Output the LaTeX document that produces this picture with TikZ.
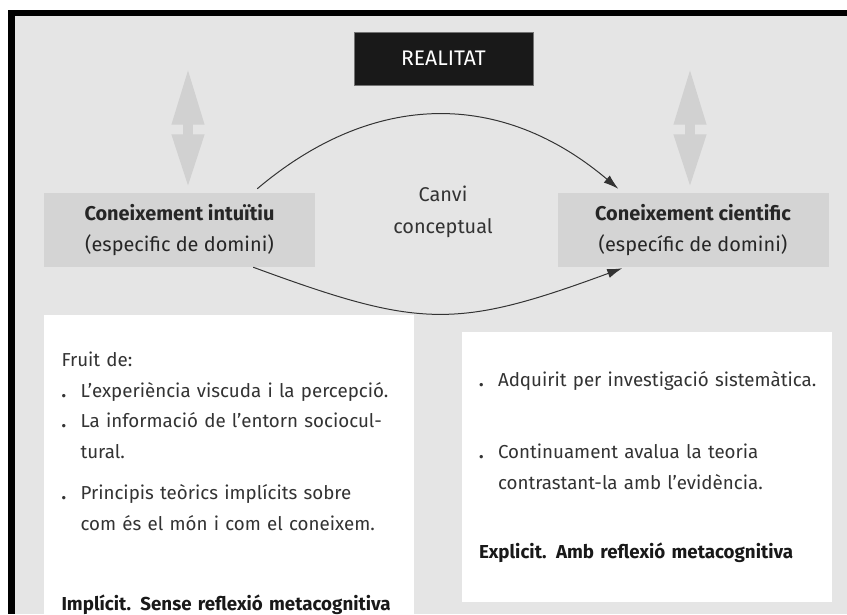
\documentclass[tikz,border=0pt]{standalone}
\usepackage{fontspec}
\setmainfont{Fira Sans}
\usepackage{tikz}
\usetikzlibrary{positioning,shapes,arrows,arrows.meta,calc}
\newcommand{\punt}{\hangindent=0.57cm\hangafter=1\noindent\makebox[0.57cm][l]{\textbf{.}}}
\newcommand{\fullline}[1]{\makebox[9.48cm][s]{#1}}

\begin{document}
\begin{tikzpicture}
        \tikzset{
            realbox/.style={fill=black!90, draw=black!55, text=white, minimum width=5.37cm, minimum height=1.59cm, font=\fontsize{18}{20}\selectfont},
            knowbox/.style={fill=black!17, minimum width=8.13cm, minimum height=2.22cm, align=center, text=black!85, font=\fontsize{17}{27}\selectfont},
            notebox/.style={fill=white, minimum width=11.1cm, minimum height=8.1cm, text width=10.05cm, align=left, text=black!80, font=\fontsize{16}{26}\selectfont\setlength\parindent{0pt}},
            updown/.style={line width=0.3cm, draw=black!18, {Triangle[length=1.7cm,width=0.9cm]}-{Triangle[length=1.6cm,width=0.9cm]}},
            change/.style={draw=black!80, line width=0.85pt, -{Latex[length=0.45cm,width=0.28cm]}},
        }

        \useasboundingbox (0,0) rectangle (25.41,-18.42);
        % background and frame
        \fill[black!10] (0.45,-0.48) rectangle (25.41,-18.42);
        \fill[black] (0.24,-0.30) rectangle (25.41,-0.48);
        \fill[black] (0.24,-0.30) rectangle (0.45,-18.42);

        \node[realbox] (realitat) at (13.305,-1.755) {REALITAT};
        \node[knowbox] (intuitiu) at (5.385,-6.9) {\textbf{Coneixement intuïtiu}\\(especific de domini)};
        \node[knowbox] (cientific) at (20.79,-6.9) {\textbf{Coneixement cientific}\\(específic de domini)};
        \node[align=center, text=black!80, font=\fontsize{17}{27}\selectfont] (canvi) at (13.29,-6.36) {Canvi\\conceptual};

        \coordinate (lup) at (5.64,-2.04);
        \coordinate (rup) at (20.7,-2.04);
        \draw[updown] (lup) -- ([xshift=0.255cm, yshift=0.15cm]intuitiu.north);
        \draw[updown] (rup) -- ([xshift=-0.09cm, yshift=0.15cm]cientific.north);

        \draw[change] ([xshift=-1.74cm, yshift=0.12cm]intuitiu.north east)
            .. controls +(3.5,2.96) and +(-3.5,2.96) .. ([xshift=1.83cm, yshift=0.12cm]cientific.north west);
        \draw[change] ([xshift=-1.86cm]intuitiu.south east)
            .. controls +(5,-1.84) and +(-5,-1.84) .. ([xshift=1.95cm, yshift=-0.03cm]cientific.south west);

        \node[notebox] (fruit) at (6.87,-14.01) {\rule{0pt}{1.42cm}Fruit de:\par
            \punt\mbox{L'experiència viscuda i la percepció.}\par
            \punt\fullline{La informació de l'entorn sociocul-}\newline tural.\par\vspace{0.33cm}
            \punt\fullline{Principis teòrics implícits sobre}\newline com és el món i com el coneixem.\par\vspace{1.5cm}
            \mbox{\textbf{\color{black!90}Implícit. Sense reflexió metacognitiva}}};
        \node[notebox] (adquirit) at (19.395,-14.01) {\punt\mbox{Adquirit per investigació sistemàtica.}\par\vspace{1.27cm}
            \punt\fullline{Continuament avalua la teoria}\newline contrastant-la amb l'evidència.\par\vspace{1.17cm}
            \mbox{\textbf{\color{black!90}Explicit. Amb reflexió metacognitiva}}};
\end{tikzpicture}
\end{document}
